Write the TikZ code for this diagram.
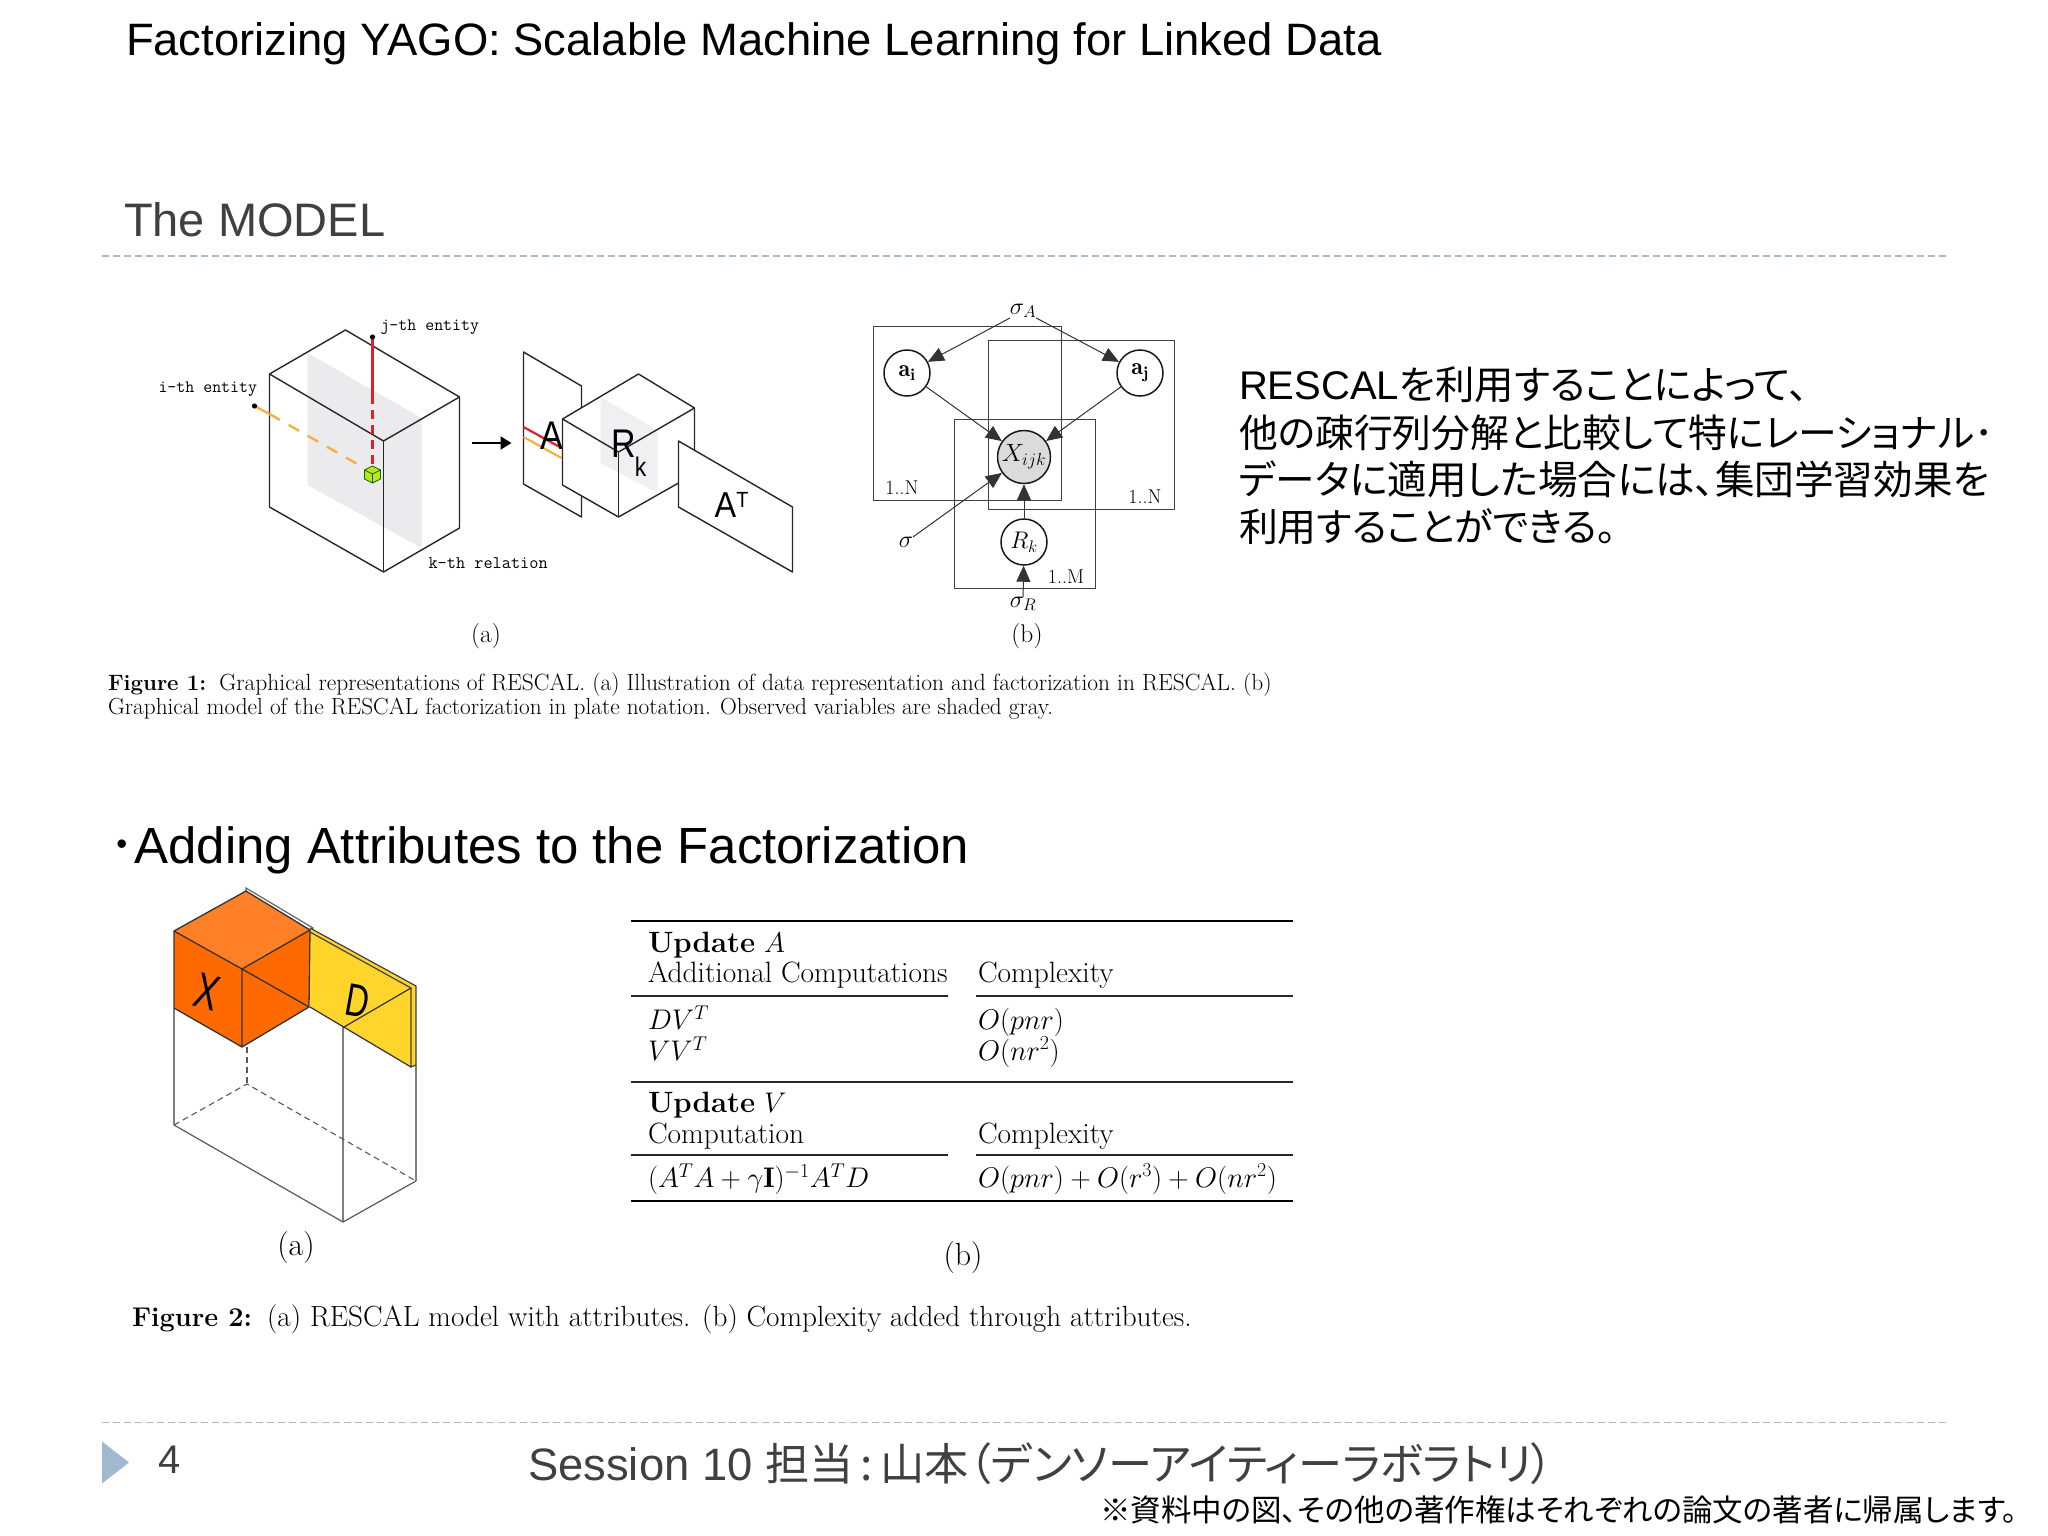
\RequirePackage{fix-cm}
\documentclass[tikz,border=0pt]{standalone}
\usepackage{fontspec}
\usepackage{amsmath}
\usetikzlibrary{arrows.meta,calc}
\newfontfamily\arial{Liberation Sans}
\newfontfamily\cjkp[RawFeature={+palt}]{Noto Sans CJK JP}
\newcommand{\hv}{\addfontfeatures{FakeBold=0.25}}
\definecolor{slidegrey}{HTML}{404040}
\definecolor{rulecol}{HTML}{A9BACB}
\definecolor{tricol}{HTML}{A0B8D0}
\definecolor{planegrey}{HTML}{EBEBEE}
\definecolor{planegreyb}{HTML}{F0F0F2}
\definecolor{xtop}{HTML}{FF8026}
\definecolor{xside}{HTML}{FF6A00}
\definecolor{dcol}{HTML}{FFD52B}
\definecolor{redl}{HTML}{E0202A}
\definecolor{orl}{HTML}{F5B040}
\definecolor{cubegreen}{HTML}{BEE614}
\newcommand{\fs}[1]{\fontsize{#1}{#1}\selectfont}
\tikzset{
  x=1pt,y=-1pt,
  lbl/.style={inner sep=0pt,outer sep=0pt,anchor=west,text=black},
  ctr/.style={inner sep=0pt,outer sep=0pt,anchor=center,text=black},
  edge3d/.style={draw=black!85,line width=1.4pt,line join=round},
  dashrule/.style={draw=rulecol,line width=1.5pt,dash pattern=on 7pt off 4pt},
  plate/.style={draw=black!75,line width=1pt},
  pnode/.style={circle,draw=black!90,line width=1.5pt,inner sep=0pt,fill=white,text=black},
  parrow/.style={draw=black!80,line width=1pt,-{Triangle[length=16pt,width=14pt]}},
  boxthin/.style={draw=black!50,line width=1.2pt},
  boxdash/.style={draw=black!65,line width=1.1pt,dash pattern=on 6pt off 4pt},
  tab/.style={lbl,text=black},
  tabrule/.style={draw=black!85,line width=1.1pt},
  tabmid/.style={draw=black!85,line width=1.4pt},
  tabthick/.style={draw=black,line width=2.6pt},
}
\begin{document}
\begin{tikzpicture}
\useasboundingbox (0,0) rectangle (2048,1536);
\fill[white] (0,0) rectangle (2048,1536);

% slide titles
\node[lbl] (title) at (126,44) {\arial\fs{45.4}Factorizing YAGO: Scalable Machine Learning for Linked Data};
\node[lbl,text=slidegrey] (model) at (124,220) {\arial\fs{47}The MODEL};
\coordinate (r1a) at (102,256); \coordinate (r1b) at (1946,256);
\draw[dashrule] (r1a) -- (r1b);

\begin{scope}[xshift=-1.5pt]
% Figure 1a: big cube
\fill[white] (347,330) -- (461,397) -- (461,528) -- (385,572) -- (271,507) -- (271,374) -- cycle;
\fill[planegrey] (309,353) -- (423,418) -- (423,548) -- (309,485) -- cycle;
\draw[edge3d] (347,330) -- (461,397) -- (461,528) -- (385,572) -- (271,507) -- (271,374) -- cycle;
\draw[edge3d] (271,374) -- (385,441) -- (461,397);
\draw[edge3d] (385,441) -- (385,572);
\coordinate (jdot) at (374,337); \coordinate (jmid) at (374,395); \coordinate (jend) at (374,468);
\coordinate (idot) at (256,406); \coordinate (imid) at (271,414); \coordinate (iend) at (364,467);
\draw[redl,line width=2.4pt] (jdot) -- (jmid);
\draw[redl,line width=2.4pt,dash pattern=on 9pt off 6pt] (jmid) -- (jend);
\draw[orl,line width=2.4pt] (idot) -- (imid);
\draw[orl,line width=2.4pt,dash pattern=on 12pt off 10pt] (imid) -- (iend);
\fill[black] (jdot) circle (2.6pt);
\fill[black] (idot) circle (2.6pt);
\filldraw[fill=cubegreen,draw=black!60!green,line width=.7pt]
  (374,466) -- (382,470) -- (382,479) -- (374,483) -- (366,479) -- (366,470) -- cycle;
\draw[black!60!green,line width=.7pt] (366,470) -- (374,474) -- (382,470) (374,474) -- (374,483);
\node[lbl] (jth) at (382,327) {\ttfamily\hv\fs{17.4}j-th entity};
\node[lbl] (ith) at (160,389) {\ttfamily\hv\fs{17.4}i-th entity};
\node[lbl] (kth) at (430,563) {\ttfamily\hv\fs{17.8}k-th relation};

\coordinate (arra) at (473,443); \coordinate (arrb) at (513,443);
\draw[black,line width=2.2pt,-{Triangle[length=11pt,width=13pt]}] (arra) -- (arrb);

% A sheet
\draw[edge3d,fill=white] (525,352) -- (583,386) -- (583,517) -- (525,484) -- cycle;
\draw[redl,line width=2.2pt] (525,427) -- (563,448);
\draw[orl,line width=2.2pt] (525,437) -- (563,458);
\node[ctr,xscale=.85] (lettA) at (553,436) {\arial\fs{40}A};
% Rk cube
\fill[white] (640,374) -- (696,408) -- (696,474) -- (620,517) -- (564,485) -- (564,419) -- cycle;
\fill[planegreyb] (602,397) -- (659,430) -- (659,493) -- (602,463) -- cycle;
\draw[edge3d] (640,374) -- (696,408) -- (696,474) -- (620,517) -- (564,485) -- (564,419) -- cycle;
\draw[edge3d] (564,419) -- (620,452) -- (696,408);
\draw[edge3d] (620,452) -- (620,517);
\node[ctr,xscale=.85] (lettR) at (625,444) {\arial\fs{40}R};
\node[ctr,xscale=.85] (lettk) at (642,467) {\arial\fs{27}k};
% AT sheet
\draw[edge3d,fill=white] (680,441) -- (794,507) -- (794,572) -- (680,507) -- cycle;
\node[ctr,xscale=.9] (lettAT) at (733,505) {\arial\fs{36}A\raisebox{10pt}{\fs{22}T}};
\end{scope}
\node[ctr] (suba) at (486,636) {\hv\fs{25.5}(a)};

% Figure 1b plates
\draw[plate] (873,326) rectangle (1061,500);
\draw[plate] (988,340) rectangle (1174,509);
\draw[plate] (954,419) rectangle (1095,588);
\node[pnode,minimum size=46pt] (ai) at (907,373) {\fs{24}$\mathbf{a_i}$};
\node[pnode,minimum size=46pt] (aj) at (1140,373) {\fs{24}$\mathbf{a_j}$};
\node[pnode,minimum size=53pt,fill=black!14] (xijk) at (1024,457) {\fs{25}$X_{ijk}$};
\node[pnode,minimum size=46pt] (rk) at (1024,542) {\fs{24}$R_k$};
\node[ctr] (sa) at (1023,311) {\fs{24}$\sigma_A$};
\node[ctr] (sg) at (906,542) {\fs{24}$\sigma$};
\node[ctr] (sr) at (1023,604) {\fs{24}$\sigma_R$};
\draw[parrow] (sa) -- (ai);
\draw[parrow] (sa) -- (aj);
\draw[parrow] (ai) -- (xijk);
\draw[parrow] (aj) -- (xijk);
\draw[parrow] (sg) -- (xijk);
\draw[parrow] (rk) -- (xijk);
\draw[parrow] (sr) -- (rk);
\node[ctr] (n1) at (902,488) {\hv\fs{20}1..N};
\node[ctr] (n2) at (1145,497) {\hv\fs{20}1..N};
\node[ctr] (n3) at (1066,577) {\hv\fs{20}1..M};
\node[ctr] (subb) at (1027,636) {\hv\fs{25.5}(b)};

% caption 1
\node[lbl] (c1a) at (108,685) {\hv\textbf{\fs{22.2}Figure 1:}\hspace{13pt}\fs{23.45}Graphical representations of RESCAL. (a) Illustration of data representation and factorization in RESCAL. (b)};
\node[lbl] (c1b) at (108,709) {\hv\fs{23.3}Graphical model of the RESCAL factorization in plate notation. Observed variables are shaded gray.};

% right text
\node[lbl] (t1) at (1239,384.5) {\arial\fs{40}RESCAL\cjkp\fs{39.4}を利用することによって、};
\node[lbl] (t2) at (1239,432.5) {\cjkp\fs{38.8}他の疎行列分解と比較して特にレーショナル･};
\node[lbl] (t3) at (1239,479.5) {\cjkp\fs{39.6}データに適用した場合には、集団学習効果を};
\node[lbl] (t4) at (1239,526.5) {\cjkp\fs{38.9}利用することができる。};

% heading 2
\node[lbl] (h2) at (109,850) {\arial\fs{50.9}{\cjkp･}Adding Attributes to the Factorization};

% Figure 2a
\draw[boxthin] (174,1008) -- (174,1125);
\draw[boxthin] (343,1027) -- (343,1222);
\draw[boxthin] (416,1065) -- (416,1181);
\draw[draw=black!65,line width=1.2pt] (174,1125) -- (343,1222) -- (416,1181);
\draw[boxdash] (247,1047) -- (247,1084);
\draw[boxdash] (174,1125) -- (247,1084) -- (416,1181);
\draw[black!60,line width=1.2pt,fill=white] (246,888) -- (313,928) -- (310,932) -- (246,893) -- cycle;
\fill[dcol] (310,928) -- (416,986) -- (416,1065) -- (411,1067) -- (310,1007) -- cycle;
\draw[black!75,line width=1.2pt] (310,928) -- (416,986) -- (416,1065) -- (411,1067) -- (411,988) -- (310,932);
\draw[black!80,line width=1.2pt] (411,1067) -- (310,1007) (344,1027) -- (411,988);
\fill[xtop] (246,891) -- (310,930) -- (242,969) -- (174,931) -- cycle;
\fill[xside] (174,931) -- (242,969) -- (242,1047) -- (174,1008) -- cycle;
\fill[xside] (242,969) -- (310,930) -- (309,1007) -- (242,1047) -- cycle;
\draw[black!80,line width=1.3pt,line join=round] (246,891) -- (310,930) -- (309,1007) -- (242,1047) -- (174,1008) -- (174,931) -- cycle;
\draw[black!80,line width=1.3pt] (174,931) -- (242,969) -- (310,930) (242,969) -- (242,1047) (242,969) -- (309,1007);
\node[ctr,rotate=-15,xscale=.7] (lettX) at (207,992) {\arial\fs{50}X};
\node[ctr,rotate=-10,xscale=.7] (lettD) at (358,1001) {\arial\fs{46}D};
\node[ctr] (suba2) at (296,1248) {\hv\fs{32}(a)};

% Table
\coordinate (tl) at (631,921); \coordinate (tr) at (1293,921);
\draw[tabthick] (tl) -- (tr);
\draw[tabrule] (631,996) -- (948,996) (976,996) -- (1293,996);
\draw[tabmid] (631,1082) -- (1293,1082);
\draw[tabrule] (631,1155) -- (948,1155) (976,1155) -- (1293,1155);
\draw[tabthick] (631,1201) -- (1293,1201);
\node[tab] (u1) at (648,945) {\hv\fs{29.4}\textbf{Update} \fs{28.4}$A$};
\node[tab] (u2) at (648,975) {\hv\fs{29.4}Additional Computations};
\node[tab] (u3) at (978,975) {\hv\fs{29.4}Complexity};
\node[tab] (u4) at (648,1018) {\fs{28.4}$DV^T$};
\node[tab] (u5) at (648,1049) {\fs{28.4}$VV^T$};
\node[tab] (u6) at (978,1022) {\fs{28.4}$O(pnr)$};
\node[tab] (u7) at (978,1052) {\fs{28.4}$O(nr^2)$};
\node[tab] (v1) at (648,1105) {\hv\fs{29.4}\textbf{Update} \fs{28.4}$V$};
\node[tab] (v2) at (648,1136) {\hv\fs{29.4}Computation};
\node[tab] (v3) at (978,1136) {\hv\fs{29.4}Complexity};
\node[tab] (v4) at (648,1179) {\fs{28.4}$(A^TA+\gamma\mathbf{I})^{-1}A^TD$};
\node[tab] (v5) at (978,1179) {\fs{28.4}$O(pnr)+O(r^3)+O(nr^2)$};
\node[ctr] (subb2) at (963,1258) {\hv\fs{32}(b)};

% caption 2
\node[lbl] (c2) at (132,1319) {\hv\textbf{\fs{27.1}Figure 2:}\hspace{15pt}\fs{29.2}(a) RESCAL model with attributes. (b) Complexity added through attributes.};

% footer
\coordinate (r2a) at (102,1422.5); \coordinate (r2b) at (1946,1422.5);
\draw[dashrule] (r2a) -- (r2b);
\fill[tricol] (102,1441.5) -- (129,1462.5) -- (102,1483.5) -- cycle;
\node[lbl,text=slidegrey] (pg) at (158,1459.5) {\arial\fs{40}4};
\node[lbl,text=slidegrey] (sess) at (528,1463.5) {\arial\fs{45.4}Session 10 \cjkp\fs{44.2}担当\,:\,山本（デンソーアイティーラボラトリ）};
\node[lbl] (note) at (1100,1509.5) {\cjkp\fs{30.5}※資料中の図、その他の著作権はそれぞれの論文の著者に帰属します。};
\end{tikzpicture}
\end{document}
